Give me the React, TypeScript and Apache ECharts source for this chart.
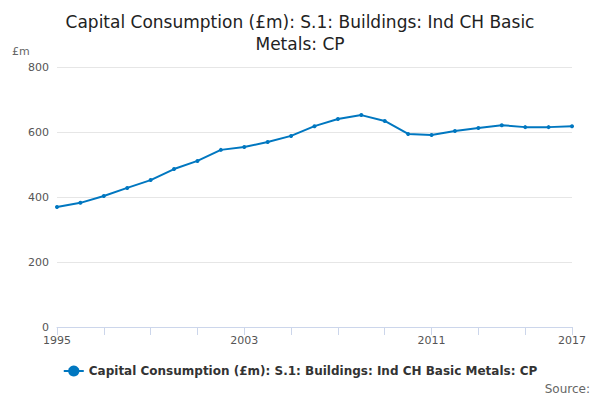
import React, { useEffect, useRef } from "react";
import * as echarts from "echarts";

const years = ["1995","1996","1997","1998","1999","2000","2001","2002","2003","2004","2005","2006","2007","2008","2009","2010","2011","2012","2013","2014","2015","2016","2017"];
const values = [369,382,403,428,452,486,511,545,554,569,588,618,640,652,634,594,591,603,612,621,615,615,618];
const shownLabels = ["1995","2003","2011","2017"];
const seriesName = "Capital Consumption (£m): S.1: Buildings: Ind CH Basic Metals: CP";

export default function App() {
  const ref = useRef<HTMLDivElement>(null);
  useEffect(() => {
    const chart = echarts.init(ref.current!, null, { renderer: "svg" });
    chart.setOption({
      animation: false,
      textStyle: { fontFamily: "DejaVu Sans" },
      title: {
        text: "Capital Consumption (£m): S.1: Buildings: Ind CH Basic\nMetals: CP",
        left: "center", top: 6,
        textStyle: { fontSize: 17, fontWeight: "normal", color: "#222", lineHeight: 22 },
      },
      grid: { left: 57, right: 28, top: 67, bottom: 73 },
      legend: {
        bottom: 18, left: "center", itemWidth: 20,
        textStyle: { fontSize: 12, fontWeight: "bold", color: "#333" },
        data: [seriesName],
      },
      graphic: [
        { type: "text", left: 12, top: 46, style: { text: "£m", fontSize: 11, fill: "#666", fontFamily: "DejaVu Sans" } },
        { type: "text", right: 10, top: 383, style: { text: "Source:", fontSize: 12, fill: "#666", fontFamily: "DejaVu Sans" } },
      ],
      xAxis: {
        type: "category", data: years, boundaryGap: false,
        axisLine: { lineStyle: { color: "#ccd6eb" } },
        axisTick: { show: true, interval: 1, length: 8, lineStyle: { color: "#ccd6eb" } },
        axisLabel: {
          interval: (i: number, v: string) => shownLabels.includes(v),
          color: "#555", fontSize: 11,
        },
      },
      yAxis: {
        type: "value", min: 0, max: 800, interval: 200,
        axisLabel: { color: "#555", fontSize: 11 },
        splitLine: { lineStyle: { color: "#e6e6e6" } },
      },
      series: [{
        name: seriesName, type: "line", data: values,
        symbol: "circle", symbolSize: 4,
        itemStyle: { color: "#0077c0" }, lineStyle: { width: 2, color: "#0077c0" },
      }],
    });
    return () => chart.dispose();
  }, []);
  return <div ref={ref} style={{ width: 600, height: 400, position: "absolute", left: 0, top: 0 }} />;
}
